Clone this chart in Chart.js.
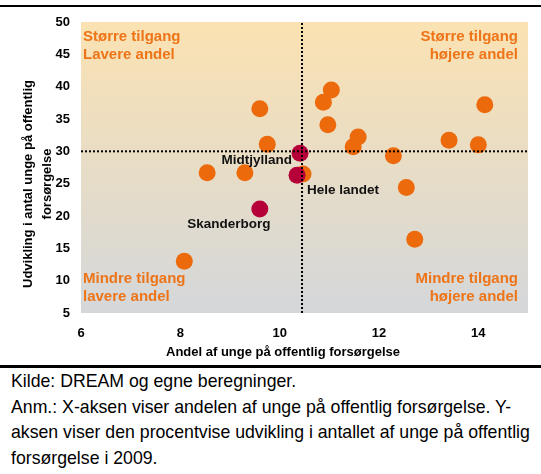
<!DOCTYPE html>
<html>
<head>
<meta charset="utf-8">
<script src="https://cdn.jsdelivr.net/npm/chart.js@4/dist/chart.umd.min.js"></script>
<style>
  html, body { margin: 0; padding: 0; background: #fff; }
  #wrap { position: relative; width: 541px; height: 474px; overflow: hidden; }
  #topline { position: absolute; left: 0; top: 5px; width: 541px; height: 2px; background: #000; }
  #chartbox { position: absolute; left: 0; top: 0; width: 541px; height: 362px; }
  #botline { position: absolute; left: 0; top: 365px; width: 541px; height: 3px; background: #000; }
  #note { position: absolute; left: 11px; top: 369px; width: 530px;
          font-family: "Liberation Sans", Arial, sans-serif;
          font-size: 17.7px; line-height: 25.5px; color: #000; white-space: nowrap; }
</style>
</head>
<body>
<div id="wrap">
  <div id="topline"></div>
  <div id="chartbox"><canvas id="c" width="541" height="362"></canvas></div>
  <div id="botline"></div>
  <div id="note">Kilde: DREAM og egne beregninger.<br>Anm.: X-aksen viser andelen af unge på offentlig forsørgelse. Y-<br>aksen viser den procentvise udvikling i antallet af unge på offentlig<br>forsørgelse i 2009.</div>
</div>
<script>
// ---- Data ----
const municipalX = [9.60, 9.75, 8.54, 9.30, 11.04, 10.88, 10.97, 11.58, 11.48, 12.29, 13.41, 14.00, 14.13, 10.47, 12.55, 12.72, 8.08];
const municipalY = [36.6, 31.1, 26.7, 26.7, 39.5, 37.6, 34.1, 32.2, 30.7, 29.3, 31.7, 31.0, 37.2, 26.5, 24.4, 16.4, 13.0];
const regionNames = ['Midtjylland', 'Hele landet', 'Skanderborg'];
const regionX = [10.41, 10.35, 9.60];
const regionY = [29.7, 26.3, 21.1];
const avgX = 10.45;
const avgY = 30;
const xMin = 6, xMax = 15, xStep = 2;
const yMin = 5, yMax = 50, yStep = 5;
const quadrantLabels = {
  topLeft: ['Større tilgang', 'Lavere andel'],
  topRight: ['Større tilgang', 'højere andel'],
  bottomLeft: ['Mindre tilgang', 'lavere andel'],
  bottomRight: ['Mindre tilgang', 'højere andel']
};
const xTitle = 'Andel af unge på offentlig forsørgelse';
const yTitle = ['Udvikling i antal unge på offentlig', 'forsørgelse'];

const ORANGE = '#EC6A0C';
const RED = '#B5003A';
const QTEXT = '#EE7418';
const FONT = '"Liberation Sans", Arial, sans-serif';

const municipalPoints = municipalX.map((x, i) => ({ x: x, y: municipalY[i] }));
const regionPoints = regionX.map((x, i) => ({ x: x, y: regionY[i] }));

const bgPlugin = {
  id: 'bg',
  beforeDraw(chart) {
    const { ctx, chartArea: a } = chart;
    const g = ctx.createLinearGradient(0, a.top, 0, a.bottom);
    g.addColorStop(0, '#FBE2B2');
    g.addColorStop(1, '#D4D7DA');
    ctx.save();
    ctx.fillStyle = g;
    ctx.fillRect(a.left, a.top, a.right - a.left, a.bottom - a.top);
    ctx.restore();
  }
};

const textPlugin = {
  id: 'texts',
  afterDraw(chart) {
    const { ctx, chartArea: a } = chart;
    ctx.save();
    // quadrant labels
    ctx.fillStyle = QTEXT;
    ctx.font = 'bold 15px ' + FONT;
    ctx.textBaseline = 'alphabetic';
    ctx.textAlign = 'left';
    ctx.fillText(quadrantLabels.topLeft[0], a.left + 2, a.top + 18.5);
    ctx.fillText(quadrantLabels.topLeft[1], a.left + 2, a.top + 36.5);
    ctx.fillText(quadrantLabels.bottomLeft[0], a.left + 2, a.bottom - 30);
    ctx.fillText(quadrantLabels.bottomLeft[1], a.left + 2, a.bottom - 12);
    ctx.textAlign = 'right';
    ctx.fillText(quadrantLabels.topRight[0], a.right - 10, a.top + 18.5);
    ctx.fillText(quadrantLabels.topRight[1], a.right - 10, a.top + 36.5);
    ctx.fillText(quadrantLabels.bottomRight[0], a.right - 10, a.bottom - 30);
    ctx.fillText(quadrantLabels.bottomRight[1], a.right - 10, a.bottom - 12);

    // region labels
    const meta = chart.getDatasetMeta(2);
    ctx.fillStyle = '#111';
    ctx.font = 'bold 13.5px ' + FONT;
    ctx.textBaseline = 'middle';
    const offs = [
      { align: 'right', dx: -8, dy: 7 },
      { align: 'left', dx: 10, dy: 15 },
      { align: 'center', dx: -31, dy: 15 }
    ];
    meta.data.forEach((el, i) => {
      const o = offs[i];
      ctx.textAlign = o.align;
      ctx.fillText(regionNames[i], el.x + o.dx, el.y + o.dy);
    });

    // axis titles
    ctx.fillStyle = '#000';
    ctx.font = 'bold 13px ' + FONT;
    ctx.textAlign = 'center';
    ctx.textBaseline = 'middle';
    ctx.fillText(xTitle, 283, 352);
    ctx.translate(0, 184);
    ctx.rotate(-Math.PI / 2);
    ctx.fillText(yTitle[0], 0, 28);
    ctx.fillText(yTitle[1], 0, 47);
    ctx.restore();
  }
};

new Chart(document.getElementById('c'), {
  type: 'scatter',
  data: {
    datasets: [
      {
        type: 'line', order: 0,
        data: [{ x: xMin, y: avgY }, { x: xMax, y: avgY }],
        borderColor: '#000', borderWidth: 2, borderDash: [2, 2],
        pointRadius: 0, fill: false
      },
      {
        type: 'line', order: 0,
        data: [{ x: avgX, y: yMin }, { x: avgX, y: yMax }],
        borderColor: '#000', borderWidth: 2, borderDash: [2, 2],
        pointRadius: 0, fill: false
      },
      {
        order: 1,
        data: regionPoints,
        backgroundColor: RED, borderWidth: 0,
        pointRadius: 8.5, pointHoverRadius: 8.5
      },
      {
        order: 2,
        data: municipalPoints,
        backgroundColor: ORANGE, borderWidth: 0,
        pointRadius: 8.5, pointHoverRadius: 8.5
      }
    ]
  },
  options: {
    responsive: false,
    animation: false,
    events: [],
    layout: { padding: { top: 22, right: 13, left: 0, bottom: 0 } },
    plugins: { legend: { display: false }, tooltip: { enabled: false }, title: { display: false } },
    scales: {
      x: {
        type: 'linear', min: xMin, max: xMax,
        grid: { display: false, drawTicks: false },
        border: { display: false },
        ticks: { stepSize: xStep, includeBounds: false, padding: 13, color: '#000',
                 font: { family: FONT, size: 13, weight: 'bold' } },
        afterFit(s) { s.height = 49; }
      },
      y: {
        type: 'linear', min: yMin, max: yMax,
        grid: { display: false, drawTicks: false },
        border: { display: false },
        ticks: { stepSize: yStep, padding: 11, color: '#000',
                 font: { family: FONT, size: 13, weight: 'bold' } },
        afterFit(s) { s.width = 81; }
      }
    }
  },
  plugins: [bgPlugin, textPlugin]
});
</script>
</body>
</html>
